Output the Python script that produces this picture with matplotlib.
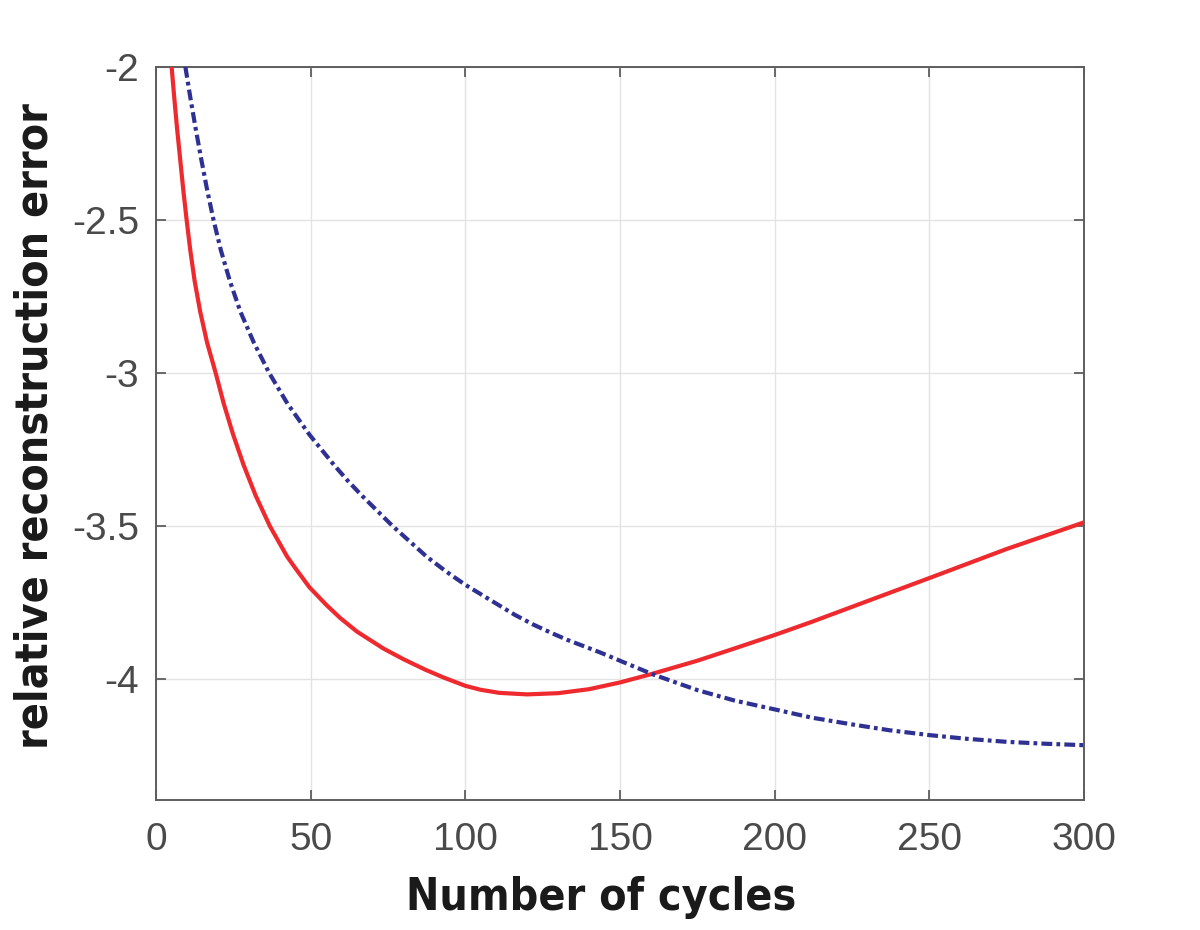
import matplotlib
matplotlib.use("Agg")
import matplotlib.pyplot as plt

# red solid curve
red_x = [5.05, 5.9, 6.8, 7.8, 8.8, 9.9, 11.1, 12.5, 14.3, 16.5, 19.3, 21.9, 24.9, 28.3, 32.2, 36.8,
         42.4, 45.0, 49.6, 55.0, 59.5, 65.0, 73.5, 80.0, 87.0, 93.0, 100.0, 105.0, 111.0, 120.0,
         130.0, 140.0, 150.0, 160.0, 175.0, 187.0, 200.0, 212.0, 225.0, 250.0, 275.0, 300.0]
red_y = [-2.0, -2.1, -2.2, -2.3, -2.4, -2.5, -2.6, -2.7, -2.8, -2.9, -3.0, -3.1, -3.2, -3.3, -3.4, -3.5,
         -3.6, -3.637, -3.7, -3.757, -3.8, -3.845, -3.9, -3.935, -3.969, -3.995, -4.022, -4.035, -4.045,
         -4.05, -4.046, -4.033, -4.011, -3.984, -3.94, -3.9, -3.856, -3.813, -3.764, -3.670, -3.575,
         -3.488]

# blue dash-dot curve
blue_x = [9.5, 11.1, 12.8, 14.6, 16.5, 18.6, 21.0, 23.9, 27.3, 31.6, 36.6, 42.5, 49.5, 57.5, 62.0,
          66.5, 70.5, 76.5, 82.0, 87.5, 94.0, 100.0, 111.4, 116.0, 122.0, 128.0, 133.0, 143.6, 150.0,
          160.5, 175.0, 187.0, 200.0, 212.0, 225.0, 237.0, 250.0, 262.0, 275.0, 287.0, 300.0]
blue_y = [-2.0, -2.1, -2.2, -2.3, -2.4, -2.5, -2.6, -2.7, -2.8, -2.9, -3.0, -3.1, -3.2, -3.3, -3.352,
          -3.4, -3.44, -3.5, -3.55, -3.6, -3.65, -3.692, -3.762, -3.79, -3.822, -3.85, -3.872, -3.913,
          -3.94, -3.984, -4.036, -4.07, -4.099, -4.126, -4.148, -4.167, -4.183, -4.195, -4.205, -4.211,
          -4.216]

x_ticks = [0, 50, 100, 150, 200, 250, 300]
y_ticks = [-4, -3.5, -3, -2.5, -2]
y_tick_labels = ['-4', '-3.5', '-3', '-2.5', '-2']

tick_font = ['Liberation Sans', 'DejaVu Sans']

fig = plt.figure(figsize=(12, 9.3), dpi=100)
ax = fig.add_axes([0.13, 0.1398, 0.7733, 0.7882])

ax.plot(red_x, red_y, color='#ee2a2e', lw=3.0, zorder=3)
ax.plot(blue_x, blue_y, color='#2e3192', lw=3.0, linestyle=(0, (2.6, 1.0, 0.9, 1.0)), zorder=3)

ax.set_xlim(0, 300)
ax.set_ylim(-4.395, -2)
ax.set_xticks(x_ticks)
ax.set_yticks(y_ticks)
ax.set_yticklabels(y_tick_labels)
ax.grid(True, color='#e3e3e3', lw=1.0)
ax.set_axisbelow(True)

for s in ax.spines.values():
    s.set_color('#5e5e5e')
    s.set_linewidth(1.4)
ax.tick_params(direction='in', length=7, width=1.3, color='#5e5e5e',
               top=True, right=True, labelsize=28, labelcolor='#4a4a4a')
ax.tick_params(axis='x', pad=16)
ax.tick_params(axis='y', pad=12)
for lab in ax.get_xticklabels() + ax.get_yticklabels():
    lab.set_family(tick_font)

ax.set_xlabel('Number of cycles', fontsize=32, fontweight='bold', family='DejaVu Sans',
              fontstretch='condensed', color='#1a1a1a', labelpad=13)
ax.set_ylabel('relative reconstruction error', fontsize=32, fontweight='bold', family='DejaVu Sans',
              fontstretch='condensed', color='#1a1a1a', labelpad=11)
ax.xaxis.label.set_x(0.4795)
ax.yaxis.label.set_y(0.51)

fig.savefig('out.png', dpi=100, facecolor='white')
